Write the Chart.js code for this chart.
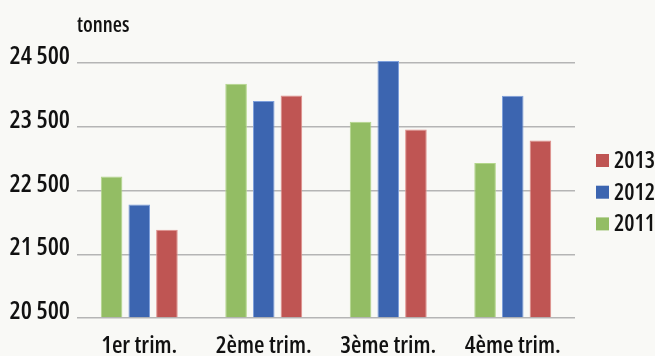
<!DOCTYPE html>
<html>
<head>
<meta charset="utf-8">
<script src="https://cdn.jsdelivr.net/npm/chart.js@4.4.1/dist/chart.umd.min.js"></script>
<style>
html,body{margin:0;padding:0;background:#f9f9f6;}
canvas{display:block;}
</style>
</head>
<body>
<canvas id="c" width="655" height="356"></canvas>
<script>
const categories = ['1er trim.', '2ème trim.', '3ème trim.', '4ème trim.'];
const seriesNames = ['2011', '2012', '2013'];
const values2011 = [22720, 24175, 23580, 22930];
const values2012 = [22280, 23905, 24530, 23985];
const values2013 = [21885, 23990, 23455, 23285];
const fillColors = ['#93bd64', '#3c65b0', '#bf5553'];
const edgeColors = ['#b3d68a', '#7d9fdc', '#df8f8b'];
const yMin = 20500, yMax = 24500, yStep = 500, yLabelStep = 1000;
const unitLabel = 'tonnes';

const FAMILY = '"Open Sans", sans-serif';
const STRETCH = '600 condensed';

const seriesValues = [values2011, values2012, values2013];

const bgPlugin = {
  id: 'bg',
  beforeDraw(chart) {
    const ctx = chart.ctx;
    ctx.save();
    ctx.fillStyle = '#f9f9f6';
    ctx.fillRect(0, 0, chart.width, chart.height);
    ctx.restore();
  }
};

const extrasPlugin = {
  id: 'extras',
  afterDraw(chart) {
    const ctx = chart.ctx;
    ctx.save();
    ctx.fillStyle = '#111';
    ctx.font = STRETCH + ' 21px ' + FAMILY;
    ctx.textBaseline = 'alphabetic';
    ctx.textAlign = 'left';
    ctx.fillText(unitLabel, chart.chartArea.left, 31.5);
    // legend (reversed order)
    const ds = chart.data.datasets;
    const startY = 160.5, rowH = 31.7;
    ctx.font = STRETCH + ' 23px ' + FAMILY;
    ctx.textBaseline = 'middle';
    for (let i = ds.length - 1, r = 0; i >= 0; i--, r++) {
      const cy = startY + r * rowH;
      ctx.fillStyle = ds[i].backgroundColor;
      ctx.fillRect(596, cy - 6.5, 13, 13);
      ctx.fillStyle = '#111';
      ctx.fillText(ds[i].label, 614, cy + 1);
    }
    ctx.restore();
  }
};

new Chart(document.getElementById('c'), {
  type: 'bar',
  data: {
    labels: categories,
    datasets: seriesNames.map((name, i) => ({
      label: name,
      data: seriesValues[i],
      backgroundColor: fillColors[i],
      borderColor: edgeColors[i],
      borderWidth: 1,
      borderSkipped: 'bottom',
      base: yMin,
      categoryPercentage: 0.667,
      barPercentage: 0.78,
      clip: { left: 0, top: 10, right: 0, bottom: 0 }
    }))
  },
  options: {
    responsive: false,
    devicePixelRatio: 1,
    animation: false,
    layout: { padding: { top: 63, right: 80, left: 0, bottom: 0 } },
    plugins: {
      legend: { display: false },
      tooltip: { enabled: false }
    },
    scales: {
      x: {
        grid: { display: false },
        border: { display: false },
        ticks: {
          color: '#111',
          font: { family: FAMILY, size: 24, weight: STRETCH },
          padding: 6,
          maxRotation: 0
        },
        afterFit(scale) { scale.height = 38; }
      },
      y: {
        min: yMin,
        max: yMax,
        border: { display: false },
        grid: { color: '#b5b5b5', lineWidth: 1.5, drawTicks: false },
        ticks: {
          stepSize: yStep,
          color: '#111',
          font: { family: FAMILY, size: 25, weight: STRETCH },
          padding: 7,
          labelOffset: -6,
          callback(v) {
            if ((v - yMin) % yLabelStep !== 0) return '';
            return String(v).replace(/\B(?=(\d{3})+(?!\d))/g, ' ');
          }
        },
        afterFit(scale) { scale.width = 77; }
      }
    }
  },
  plugins: [bgPlugin, extrasPlugin]
});
</script>
</body>
</html>
